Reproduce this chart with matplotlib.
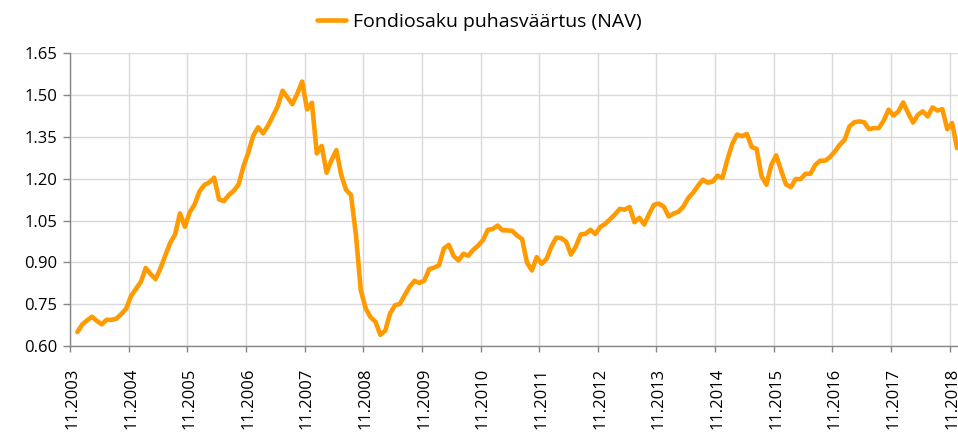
import numpy as np
import matplotlib.pyplot as plt
from matplotlib.ticker import FixedLocator, FixedFormatter

# kuu indeks 0 = 11.2003, andmed algavad 12.2003
start_idx = 1
nav = [
    0.650, 0.677, 0.692, 0.705, 0.690, 0.678, 0.694, 0.694, 0.698, 0.715, 0.734, 0.780,
    0.805, 0.830, 0.880, 0.858, 0.840, 0.878, 0.925, 0.970, 1.000, 1.076, 1.028, 1.080,
    1.108, 1.155, 1.178, 1.187, 1.204, 1.126, 1.120, 1.142, 1.157, 1.180, 1.245, 1.295,
    1.355, 1.385, 1.363, 1.390, 1.425, 1.460, 1.516, 1.492, 1.468, 1.505, 1.549, 1.449,
    1.473, 1.291, 1.318, 1.222, 1.267, 1.303, 1.214, 1.160, 1.142, 1.000, 0.800, 0.735,
    0.703, 0.687, 0.640, 0.655, 0.717, 0.746, 0.751, 0.783, 0.813, 0.834, 0.826, 0.835,
    0.876, 0.881, 0.890, 0.950, 0.963, 0.923, 0.907, 0.931, 0.924, 0.945, 0.960, 0.980,
    1.017, 1.020, 1.032, 1.015, 1.015, 1.013, 0.996, 0.984, 0.900, 0.871, 0.919, 0.895,
    0.912, 0.957, 0.989, 0.987, 0.975, 0.928, 0.957, 1.000, 1.003, 1.017, 1.002, 1.027,
    1.038, 1.055, 1.072, 1.092, 1.089, 1.099, 1.044, 1.060, 1.036, 1.074, 1.107, 1.111,
    1.100, 1.065, 1.075, 1.082, 1.100, 1.131, 1.150, 1.175, 1.197, 1.186, 1.190, 1.211,
    1.203, 1.268, 1.325, 1.359, 1.353, 1.361, 1.314, 1.307, 1.209, 1.179, 1.250, 1.284,
    1.230, 1.180, 1.170, 1.199, 1.199, 1.218, 1.218, 1.250, 1.265, 1.265, 1.278, 1.298,
    1.322, 1.340, 1.388, 1.403, 1.406, 1.403, 1.378, 1.382, 1.382, 1.409, 1.448, 1.427,
    1.442, 1.474, 1.436, 1.402, 1.430, 1.442, 1.424, 1.456, 1.445, 1.450, 1.378, 1.400,
    1.310,
]
tick_labels = ["11.2003", "11.2004", "11.2005", "11.2006", "11.2007", "11.2008",
               "11.2009", "11.2010", "11.2011", "11.2012", "11.2013", "11.2014",
               "11.2015", "11.2016", "11.2017", "11.2018"]
y_ticks = [0.60, 0.75, 0.90, 1.05, 1.20, 1.35, 1.50, 1.65]

plt.rcParams['font.family'] = ['Open Sans', 'DejaVu Sans']

fig = plt.figure(figsize=(9.58, 4.34), dpi=100)
ax = fig.add_axes([70 / 958, 88 / 434, 888 / 958, 292.6 / 434])

x = np.arange(start_idx, start_idx + len(nav))
ax.plot(x, nav, color="#FF9B00", lw=3.3, solid_joinstyle="round",
        solid_capstyle="round", label="Fondiosaku puhasväärtus (NAV)", zorder=3)

ax.set_xlim(-0.5, 181.2)
ax.set_ylim(0.60, 1.65)

# sildid kategooria keskel, jaotised kategooriate vahel
lab_pos = np.arange(len(tick_labels)) * 12
ax.xaxis.set_major_locator(FixedLocator(lab_pos))
ax.xaxis.set_major_formatter(FixedFormatter(tick_labels))
ax.xaxis.set_minor_locator(FixedLocator(lab_pos - 0.5))
ax.tick_params(axis="x", which="major", length=0, pad=15.5, labelsize=12,
               labelrotation=90, colors="#000000")
ax.tick_params(axis="x", which="minor", length=4.5, width=1, color="#868686",
               direction="out")
ax.grid(True, axis="x", which="minor", color="#d9d9d9", lw=1)

ax.set_yticks(y_ticks)
ax.set_yticklabels([f"{v:.2f}" for v in y_ticks])
ax.tick_params(axis="y", length=5, width=1, color="#868686", labelsize=12, pad=4)
ax.grid(True, axis="y", color="#d9d9d9", lw=1)

for s in ["top", "right"]:
    ax.spines[s].set_visible(False)
for s in ["left", "bottom"]:
    ax.spines[s].set_color("#868686")
    ax.spines[s].set_linewidth(1)
ax.set_axisbelow(True)

fig.legend(loc="upper center", bbox_to_anchor=(0.5, 1.01), frameon=False,
           fontsize=14, handlelength=1.5, handletextpad=0.35)

fig.savefig("out.png", dpi=100)
